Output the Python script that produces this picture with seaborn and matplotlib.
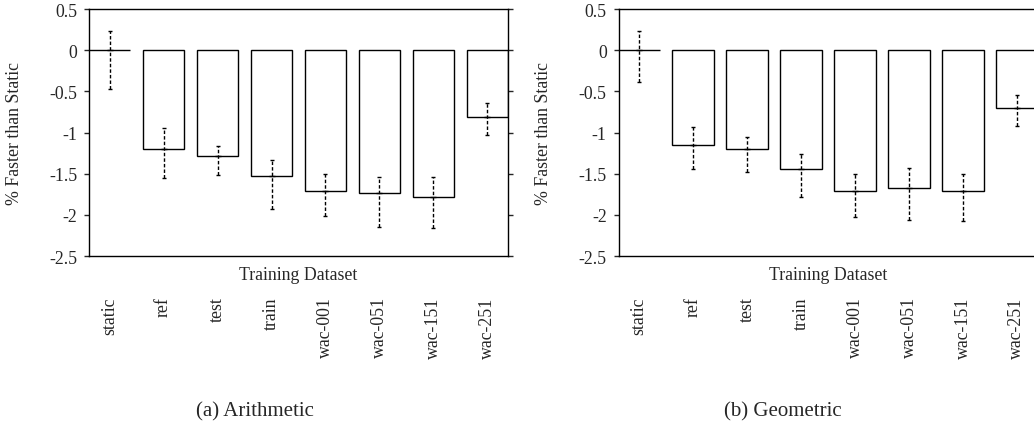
import matplotlib
matplotlib.use("Agg")
import matplotlib.pyplot as plt
import seaborn as sns
import numpy as np
import pandas as pd

categories = ["static", "ref", "test", "train", "wac-001", "wac-051", "wac-151", "wac-251"]

arith_vals = [0.0, -1.20, -1.29, -1.53, -1.71, -1.74, -1.78, -0.81]
arith_hi = [0.235, -0.94, -1.17, -1.34, -1.50, -1.54, -1.54, -0.645]
arith_lo = [-0.47, -1.55, -1.52, -1.93, -2.01, -2.15, -2.16, -1.03]

geo_vals = [0.0, -1.15, -1.20, -1.44, -1.71, -1.67, -1.71, -0.70]
geo_hi = [0.235, -0.93, -1.05, -1.26, -1.50, -1.43, -1.50, -0.54]
geo_lo = [-0.39, -1.44, -1.48, -1.78, -2.03, -2.06, -2.08, -0.92]

ytick_vals = [0.5, 0, -0.5, -1, -1.5, -2, -2.5]
ytick_labels = ["0.5", "0", "-0.5", "-1", "-1.5", "-2", "-2.5"]

ylabel = "% Faster than Static"
xlabel = "Training Dataset"
captions = ["(a) Arithmetic", "(b) Geometric"]

sns.set_style("ticks")
plt.rcParams["font.family"] = ["Liberation Serif", "DejaVu Serif"]
FS = 12.8

W, H = 1034, 427
fig = plt.figure(figsize=(W / 100, H / 100), dpi=100)

ax_w = 419 / W
ax_h = 247 / H
ax_b = (H - 257) / H
axes = [fig.add_axes([89 / W, ax_b, ax_w, ax_h]),
        fig.add_axes([618.5 / W, ax_b, ax_w, ax_h])]

datasets = [(arith_vals, arith_hi, arith_lo), (geo_vals, geo_hi, geo_lo)]

for ax, (vals, hi, lo) in zip(axes, datasets):
    df = pd.DataFrame({"cat": categories, "val": vals})
    sns.barplot(data=df, x="cat", y="val", ax=ax, color="white", saturation=1,
                edgecolor="black", linewidth=1.0, width=0.76, errorbar=None)
    xs = [p.get_x() + p.get_width() / 2 for p in ax.patches]
    v = np.array(vals)
    yerr = [v - np.array(lo), np.array(hi) - v]
    eb = ax.errorbar(xs, v, yerr=yerr, fmt="_", color="black", markersize=4,
                     markeredgewidth=1.0, capsize=1.5, capthick=1.0, elinewidth=1.0,
                     ls="none", zorder=5)
    for lc in eb[2]:
        lc.set_linestyle((0, (2.5, 1.5)))
    ax.set_xlim(-0.38, 7.38)
    ax.set_ylim(-2.5, 0.5)
    ax.set_yticks(ytick_vals)
    ax.set_yticklabels(ytick_labels)
    ax.set_xticks(range(len(categories)))
    ax.set_xticklabels(categories, rotation=90)
    ax.tick_params(axis="x", length=0, pad=29, labelsize=FS)
    ax.tick_params(axis="y", left=True, right=True, direction="out", length=3.5,
                   width=1.0, pad=5, labelsize=FS)
    for s in ax.spines.values():
        s.set_visible(True)
        s.set_linewidth(1.0)
        s.set_color("black")
    ax.set_xlabel("")
    ax.set_ylabel(ylabel, fontsize=FS, va="center")
    ax.yaxis.set_label_coords((14 - 89) / 419, 0.5)
    ax.text(0.5, (257 - 276) / 247, xlabel, transform=ax.transAxes,
            ha="center", va="center", fontsize=FS)

fig.text(255 / W, 1 - 412 / H, captions[0], ha="center", va="center", fontsize=15)
fig.text(783 / W, 1 - 412 / H, captions[1], ha="center", va="center", fontsize=15)

fig.savefig("out.png", dpi=100)
